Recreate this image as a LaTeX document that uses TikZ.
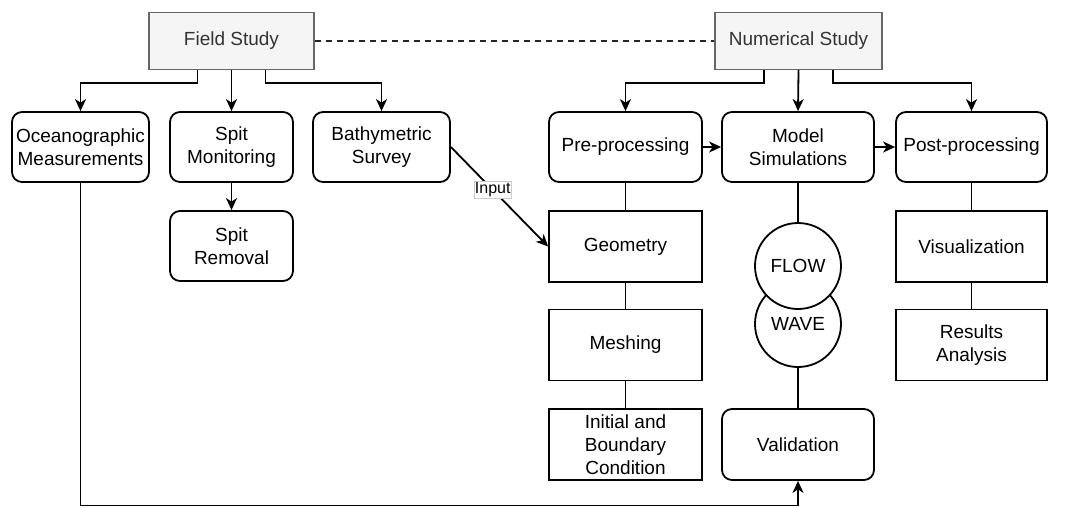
\documentclass[tikz,border=0pt]{standalone}
\usepackage{fontspec}
\setmainfont{Liberation Sans}
\usetikzlibrary{arrows.meta}
\definecolor{headfill}{HTML}{F5F5F5}
\definecolor{headline}{HTML}{666666}
\definecolor{headtext}{HTML}{333333}
\begin{document}
\begin{tikzpicture}[x=1pt,y=-1pt,line width=1.8pt,
  font=\fontsize{19}{23}\selectfont,
  study/.style={draw=headline,fill=headfill,text=headtext,line width=1.3pt,minimum height=57pt},
  task/.style={draw,rounded corners=10pt,minimum height=70pt,align=center,inner sep=1pt},
  part/.style={draw,minimum height=71pt,align=center,inner sep=1pt},
  solver/.style={draw,circle,fill=white,minimum size=86pt,inner sep=0pt},
  arr/.style={-{Stealth[length=12pt,width=11pt,inset=3.5pt]}}]
  \useasboundingbox (0,0) rectangle (1065,507);
  \node[study,minimum width=165pt] (field) at (231.5,41) {Field Study};
  \node[study,minimum width=167pt] (num) at (798.5,41) {Numerical Study};
  \node[task,minimum width=137pt] (ocean) at (80.5,147) {Oceanographic\\Measurements};
  \node[task,minimum width=123pt] (spitmon) at (231.5,147) {Spit\\Monitoring};
  \node[task,minimum width=137pt] (bathy) at (381.5,147) {Bathymetric\\Survey};
  \node[task,minimum width=123pt] (spitrem) at (231.5,246) {Spit\\Removal};
  \node[task,minimum width=153pt] (pre) at (625.5,147) {Pre-processing};
  \node[task,minimum width=152pt] (model) at (798,147) {Model\\Simulations};
  \node[task,minimum width=151pt] (post) at (971.5,147) {Post-processing};
  \node[part,minimum width=153pt] (geom) at (625.5,246.5) {Geometry};
  \node[part,minimum width=153pt] (mesh) at (625.5,345) {Meshing};
  \node[part,minimum width=153pt] (init) at (625.5,444.5) {Initial and\\Boundary\\Condition};
  \node[part,minimum width=151pt] (vis) at (971.5,246.5) {Visualization};
  \node[part,minimum width=151pt] (res) at (971.5,345) {Results\\Analysis};
  \node[task,minimum width=152pt,minimum height=71pt] (valid) at (798,444.5) {Validation};
  \node[solver] (wave) at (798,324) {WAVE};
  \node[solver] (flow) at (798,266) {FLOW};
  \coordinate (bend) at (80.5,505.5);

  \draw[black!85,line width=1.5pt,dash pattern=on 6pt off 5pt] (field) -- (num);
  \draw[arr] ([xshift=-34pt]field.south) -- ++(0,13) -| (ocean.north);
  \draw[arr] (field.south) -- (spitmon.north);
  \draw[arr] ([xshift=34pt]field.south) -- ++(0,13) -| (bathy.north);
  \draw[arr] (spitmon) -- (spitrem);
  \draw[arr] ([xshift=-34.5pt]num.south) -- ++(0,13) -| (pre.north);
  \draw[arr] (num.south) -- (model.north);
  \draw[arr] ([xshift=34.5pt]num.south) -- ++(0,13) -| (post.north);
  \draw[arr] (pre) -- (model);
  \draw[arr] (model) -- (post);
  \draw[arr] (bathy.east) -- (geom.west)
    node[pos=0.43,fill=white,draw=gray!40,line width=0.8pt,inner sep=1pt,
      font=\fontsize{16}{18}\selectfont] {Input};
  \draw (pre) -- (geom) -- (mesh) -- (init);
  \draw (post) -- (vis) -- (res);
  \draw (model) -- (flow);
  \draw (wave) -- (valid);
  \draw[arr] (ocean.south) -- (bend) -| (valid.south);
\end{tikzpicture}
\end{document}
